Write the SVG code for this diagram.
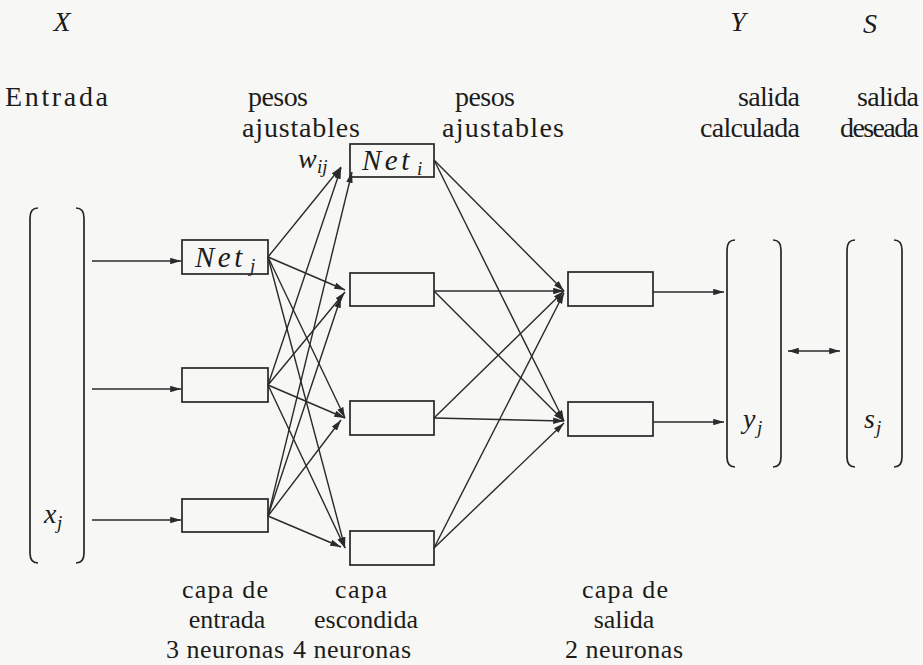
<svg xmlns="http://www.w3.org/2000/svg" width="923" height="665" viewBox="0 0 923 665">
<style>
.bg{fill:#f7f7f5}
.box{fill:none;stroke:#262626;stroke-width:1.7}
.br{fill:none;stroke:#262626;stroke-width:1.7}
.ln{fill:none;stroke:#2a2a2a;stroke-width:1.4}
.ar{fill:none;stroke:#2a2a2a;stroke-width:1.4;marker-end:url(#ah)}
.t{font-family:"Liberation Serif","Times New Roman",serif;font-size:28px;fill:#1c1c1c}
.b{font-family:"Liberation Serif","Times New Roman",serif;font-size:26px;fill:#1c1c1c;text-anchor:middle}
.m{font-family:"Liberation Serif","Times New Roman",serif;font-size:28px;font-style:italic;fill:#1c1c1c}
.net{font-family:"Liberation Serif","Times New Roman",serif;font-size:29px;font-style:italic;letter-spacing:3.5px;fill:#1c1c1c}
.sub{font-family:"Liberation Serif","Times New Roman",serif;font-size:19px;font-style:italic;fill:#1c1c1c}
.c{text-anchor:middle}
</style>
<defs>
<marker id="ah" viewBox="0 0 10 6" refX="10" refY="3" markerWidth="11" markerHeight="6.5" markerUnits="userSpaceOnUse" orient="auto">
<path d="M0,0 L10,3 L0,6 Z" fill="#2a2a2a"/>
</marker>
<marker id="ahs" viewBox="0 0 10 6" refX="0" refY="3" markerWidth="11" markerHeight="6.5" markerUnits="userSpaceOnUse" orient="auto">
<path d="M10,0 L0,3 L10,6 Z" fill="#2a2a2a"/>
</marker>
</defs>
<rect class="bg" x="0" y="0" width="923" height="665"/>

<g id="labels-top">
<text class="m c" x="62" y="31">X</text>
<text class="m c" x="738" y="31">Y</text>
<text class="m c" x="870" y="33">S</text>
<text class="t" x="5" y="106" textLength="103" lengthAdjust="spacing">Entrada</text>
<text class="t" x="248" y="106" textLength="60" lengthAdjust="spacing">pesos</text>
<text class="t" x="242" y="137" textLength="118" lengthAdjust="spacing">ajustables</text>
<text class="t" x="455" y="106" textLength="60" lengthAdjust="spacing">pesos</text>
<text class="t" x="442" y="137" textLength="122" lengthAdjust="spacing">ajustables</text>
<text class="t" x="738" y="106" textLength="62" lengthAdjust="spacing">salida</text>
<text class="t" x="700" y="137" textLength="100" lengthAdjust="spacing">calculada</text>
<text class="t" x="857" y="106" textLength="62" lengthAdjust="spacing">salida</text>
<text class="t" x="840" y="137" textLength="79" lengthAdjust="spacing">deseada</text>
</g>

<g id="vector-X">
<path class="br" d="M38,208 Q30,208 30,218 L30,553 Q30,563 38,563"/>
<path class="br" d="M76,208 Q84,208 84,218 L84,553 Q84,563 76,563"/>
<text class="m" x="44" y="523">x</text><text class="sub" x="57" y="529">j</text>
</g>

<g id="vector-Y">
<path class="br" d="M735,240 Q727,240 727,250 L727,457 Q727,467 735,467"/>
<path class="br" d="M773,240 Q781,240 781,250 L781,457 Q781,467 773,467"/>
<text class="m" x="743" y="428">y</text><text class="sub" x="757" y="434">j</text>
</g>

<g id="vector-S">
<path class="br" d="M855,240 Q847,240 847,250 L847,457 Q847,467 855,467"/>
<path class="br" d="M894,240 Q902,240 902,250 L902,457 Q902,467 894,467"/>
<text class="m" x="864" y="428">s</text><text class="sub" x="876" y="434">j</text>
</g>

<g id="in1"><rect class="box" x="182" y="240" width="86" height="34"/><text class="net" x="195" y="267">Net</text><text class="sub" x="250" y="272">j</text></g>
<g id="in2"><rect class="box" x="182" y="368" width="86" height="34"/></g>
<g id="in3"><rect class="box" x="182" y="499" width="86" height="33"/></g>

<g id="hid1"><rect class="box" x="350" y="144" width="84" height="33"/><text class="net" x="362" y="170">Net</text><text class="sub" x="417" y="175">i</text></g>
<g id="hid2"><rect class="box" x="350" y="273" width="84" height="33"/></g>
<g id="hid3"><rect class="box" x="350" y="401" width="84" height="34"/></g>
<g id="hid4"><rect class="box" x="350" y="531" width="84" height="34"/></g>

<g id="out1"><rect class="box" x="568" y="272" width="85" height="34"/></g>
<g id="out2"><rect class="box" x="568" y="402" width="85" height="34"/></g>

<g id="weight-label"><text class="m" x="298" y="168">w</text><text class="sub" x="317" y="173">ij</text></g>

<g id="connectors">
<line class="ar" x1="92" y1="261" x2="181" y2="261"/>
<line class="ar" x1="92" y1="389" x2="181" y2="389"/>
<line class="ar" x1="92" y1="520" x2="181" y2="520"/>

<line class="ar" x1="268" y1="257" x2="341" y2="167"/>
<line class="ar" x1="268" y1="257" x2="345" y2="290"/>
<line class="ar" x1="268" y1="257" x2="345" y2="418"/>
<line class="ar" x1="268" y1="257" x2="345" y2="548"/>

<line class="ar" x1="268" y1="385" x2="341" y2="168"/>
<line class="ar" x1="268" y1="385" x2="345" y2="292"/>
<line class="ar" x1="268" y1="385" x2="345" y2="418"/>
<line class="ar" x1="268" y1="385" x2="345" y2="548"/>

<line class="ar" x1="268" y1="516" x2="352" y2="172"/>
<line class="ar" x1="268" y1="516" x2="341" y2="297"/>
<line class="ar" x1="268" y1="516" x2="341" y2="420"/>
<line class="ar" x1="268" y1="516" x2="341" y2="547"/>

<line class="ar" x1="434" y1="160" x2="564" y2="291"/>
<line class="ar" x1="434" y1="160" x2="564" y2="421"/>
<line class="ar" x1="434" y1="291" x2="564" y2="291"/>
<line class="ar" x1="434" y1="291" x2="564" y2="421"/>
<line class="ar" x1="434" y1="418" x2="564" y2="291"/>
<line class="ar" x1="434" y1="418" x2="564" y2="421"/>
<line class="ar" x1="434" y1="548" x2="564" y2="293"/>
<line class="ar" x1="434" y1="548" x2="564" y2="423"/>

<line class="ar" x1="653" y1="292" x2="724" y2="292"/>
<line class="ar" x1="653" y1="422" x2="724" y2="422"/>

<line class="ln" x1="788" y1="351" x2="840" y2="351" marker-start="url(#ahs)" marker-end="url(#ah)"/>
</g>

<g id="labels-bottom">
<text class="b" x="225" y="598" textLength="86" lengthAdjust="spacing">capa de</text>
<text class="b" x="227" y="628">entrada</text>
<text class="b" x="225" y="658" textLength="118" lengthAdjust="spacing">3 neuronas</text>
<text class="b" x="361" y="598" textLength="52" lengthAdjust="spacing">capa</text>
<text class="b" x="366" y="628">escondida</text>
<text class="b" x="352" y="658" textLength="118" lengthAdjust="spacing">4 neuronas</text>
<text class="b" x="625" y="598" textLength="86" lengthAdjust="spacing">capa de</text>
<text class="b" x="624" y="628">salida</text>
<text class="b" x="624" y="658" textLength="118" lengthAdjust="spacing">2 neuronas</text>
</g>
</svg>
